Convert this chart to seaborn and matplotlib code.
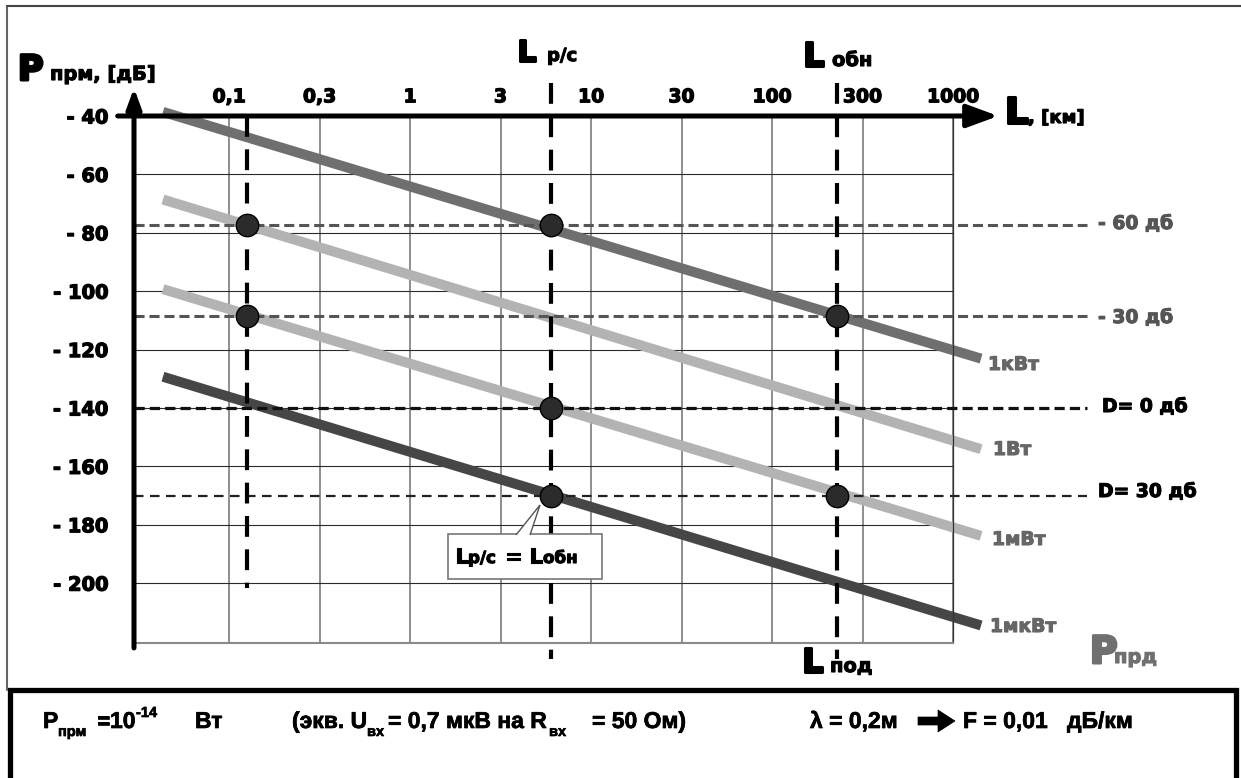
import pandas as pd
import matplotlib.pyplot as plt
import matplotlib.patheffects as pe
import seaborn as sns
from matplotlib.patches import Rectangle, Polygon
from matplotlib.lines import Line2D

# ===============================
# data (x = position on the distance scale, one step = one tick)
# ===============================
dist_labels = ["0,1", "0,3", "1", "3", "10", "30", "100", "300", "1000"]
y_ticks = [-40, -60, -80, -100, -120, -140, -160, -180, -200]

power_names = ["1кВт", "1Вт", "1мВт", "1мкВт"]
power_colors = ["#6f6f6f", "#b3b3b3", "#b3b3b3", "#464646"]
line_x = [-0.73, 8.31]
line_start_db = [-38.6, -68.6, -99.3, -129.3]
line_end_db = [-123.1, -154.1, -183.8, -214.5]

level_names = ["- 60 дб", "- 30 дб", "D= 0 дб", "D= 30 дб"]
level_db = [-77.5, -108.5, -140, -170]

mark_x = [0.2, 3.56, 6.72]          # L(0,1) , L р/с , L обн
mark_top = [-40, -28.7, -28.7]
mark_bottom = [-201.6, -226, -226]

dot_x = [0.2, 3.56, 0.2, 6.72, 3.56, 3.56, 6.72]
dot_y = [-77.5, -77.5, -108.5, -108.5, -140, -170, -170]

# ===============================
# figure
# ===============================
sns.set_style("white")
plt.rcParams["font.family"] = ["DejaVu Sans"]

W, H = 1241, 778
fig = plt.figure(figsize=(W / 100, H / 100), dpi=100)
ax = fig.add_axes([134 / W, 1 - 643 / H, (953 - 134) / W, (643 - 116) / H])
ax.set_xlim(-1.05, 8)
ax.set_ylim(-220.5, -40)


def heavy(color, w=0.8):
    return [pe.withStroke(linewidth=w, foreground=color)]


def put(x, y, s, size, color="black", weight="bold", stroke=0.8, **kw):
    # text placed by pixel position (from top-left)
    t = fig.text(x / W, 1 - y / H, s, fontsize=size, color=color,
                 fontweight=weight, va="baseline", ha="left", **kw)
    if stroke:
        t.set_path_effects(heavy(color, stroke))
    return t


# grid + ticks
ax.set_xticks(range(len(dist_labels)))
ax.set_xticklabels(dist_labels)
ax.xaxis.tick_top()
ax.set_yticks(y_ticks)
ax.set_yticklabels([f"- {abs(v)}" for v in y_ticks])
ax.tick_params(axis="x", length=0, pad=7, labelsize=13.5, labelcolor="black")
ax.tick_params(axis="y", length=11.5, width=0.8, color="#333333", pad=7,
               labelsize=14, labelcolor="black")
for lab in ax.get_xticklabels() + ax.get_yticklabels():
    lab.set_fontweight("bold")
    lab.set_path_effects(heavy("black", 0.9))
ax.grid(axis="x", color="#707070", lw=1.1)
ax.grid(axis="y", color="#2a2a2a", lw=0.8)
ax.set_axisbelow(True)
ax.spines["top"].set_visible(False)
ax.spines["left"].set_visible(False)
ax.spines["bottom"].set_color("#8a8a8a")
ax.spines["bottom"].set_linewidth(1.5)
ax.spines["right"].set_color("#333333")
ax.spines["right"].set_linewidth(0.9)

# axis arrows
ax.annotate("", xy=(8.5, -40), xytext=(-1.23, -40),
            arrowprops=dict(arrowstyle="-|>,head_length=0.95,head_width=0.35",
                            lw=3.6, color="black", mutation_scale=20,
                            shrinkA=0, shrinkB=0, clip_on=False),
            annotation_clip=False, zorder=7)
ax.annotate("", xy=(-1.05, -30.4), xytext=(-1.05, -222.2),
            arrowprops=dict(arrowstyle="-|>,head_length=0.6,head_width=0.22",
                            lw=3.6, color="black", mutation_scale=20,
                            shrinkA=0, shrinkB=0, clip_on=False),
            annotation_clip=False, zorder=7)

# power lines
rows = []
for name, a, b in zip(power_names, line_start_db, line_end_db):
    rows.append({"power": name, "pos": line_x[0], "db": a})
    rows.append({"power": name, "pos": line_x[1], "db": b})
lines_df = pd.DataFrame(rows)
sns.lineplot(data=lines_df, x="pos", y="db", hue="power",
             palette=dict(zip(power_names, power_colors)),
             lw=7.2, legend=False, sort=False, ax=ax)
for ln in ax.lines:
    ln.set_clip_on(False)
    ln.set_solid_capstyle("butt")
    ln.set_zorder(2)
ax.set_xlabel("")
ax.set_ylabel("")

# horizontal reference levels
level_colors = ["#555555", "#555555", "#111111", "#222222"]
level_lw = [2.2, 2.2, 2.3, 1.6]
level_dash = [(0, (3.3, 1.6)), (0, (3.3, 1.6)), (0, (3.2, 1.6)), (0, (4.3, 2.9))]
for y, c, w, d in zip(level_db, level_colors, level_lw, level_dash):
    ax.plot([-1.05, 9.48], [y, y], color=c, lw=w, ls=d, clip_on=False, zorder=3)

# vertical distance marks
for x, t, b in zip(mark_x, mark_top, mark_bottom):
    ax.plot([x, x], [t, b], color="black", lw=3, ls=(0, (5, 3)),
            clip_on=False, zorder=4)

# crossing points
sns.scatterplot(x=dot_x, y=dot_y, s=260, color="#2b2b2b", edgecolor="black",
                linewidth=1, zorder=6, clip_on=False, ax=ax)

# ===============================
# labels
# ===============================
put(18, 80, "P", 25, stroke=2.2)
put(50, 80, "прм, [дБ]", 14)
put(517, 61, "L", 21, stroke=2.2)
put(547, 61, "р/с", 13)
put(803, 66, "L", 24, stroke=2.2)
put(832, 66, "обн", 14)
put(1005, 123, "L", 26, stroke=2.2)
put(1028, 123, ", [км]", 13)
put(802, 672, "L", 24, stroke=2.2)
put(830, 672, "под", 14)
put(1090, 663, "P", 27, color="#707070", stroke=2.2)
put(1114, 663, "прд", 14, color="#707070")

label_pos = [(988, 370), (993, 455), (992, 545), (990, 632)]
for name, (x, y) in zip(power_names, label_pos):
    put(x, y, name, 13.5, color="#666666")

level_pos = [(1098, 229), (1098, 323), (1102, 412), (1098, 497)]
level_text_colors = ["#555555", "#555555", "black", "black"]
for name, (x, y), c in zip(level_names, level_pos, level_text_colors):
    put(x, y, name, 13.5, color=c)

# callout
fig.add_artist(Rectangle((448 / W, 1 - 579 / H), (602 - 448) / W, (579 - 534) / H,
                         transform=fig.transFigure, fc="white", ec="#777777", lw=1.2, zorder=8))
fig.add_artist(Polygon([(516 / W, 1 - 535 / H), (540 / W, 1 - 505 / H), (530 / W, 1 - 535 / H)],
                       closed=False, transform=fig.transFigure, fc="white", ec="#555555",
                       lw=1, zorder=9))
for x, s, size in [(455, "L", 15), (468, "р/с", 12), (505, "=", 15),
                   (529, "L", 15), (543, "обн", 12)]:
    put(x, 563, s, size, zorder=10)

# outer frame and bottom panel
fig.add_artist(Line2D([7 / W, 7 / W], [1 - 690 / H, 1 - 6 / H], color="#666666", lw=1.5))
fig.add_artist(Line2D([7 / W, 1.0], [1 - 6 / H, 1 - 6 / H], color="#444444", lw=1.5))
fig.add_artist(Rectangle((10 / W, 1 - 782 / H), (1236 - 10) / W, (782 - 690) / H,
                         transform=fig.transFigure, fill=False, ec="black", lw=3.8))

base = 728
big, small = 16.5, 10.5
ff = "Liberation Sans"
for x, dy, s, size in [(43, 0, "P", big), (58, 8, "прм", small),
                       (97, 0, "=", big), (110, 0, "10", big), (136, -11, "-14", small),
                       (195, 0, "Вт", big), (292, 0, "(экв. U", big), (367, 8, "вх", small),
                       (388, 0, "= 0,7 мкВ на R", big), (549, 8, "вх", small),
                       (592, 0, "= 50 Ом)", big), (810, 0, "λ = 0,2м", big),
                       (963, 0, "F = 0,01", big), (1067, 0, "дБ/км", big)]:
    put(x, base + dy, s, size, stroke=0.5, family=ff)

# arrow between λ and F
fig.add_artist(Polygon([(918 / W, 1 - 717 / H), (938 / W, 1 - 717 / H), (938 / W, 1 - 710 / H),
                        (955 / W, 1 - 721 / H), (938 / W, 1 - 732 / H), (938 / W, 1 - 725 / H),
                        (918 / W, 1 - 725 / H)],
                       closed=True, transform=fig.transFigure, fc="black", ec="black", lw=0.5))

fig.savefig("out.png", dpi=100)
